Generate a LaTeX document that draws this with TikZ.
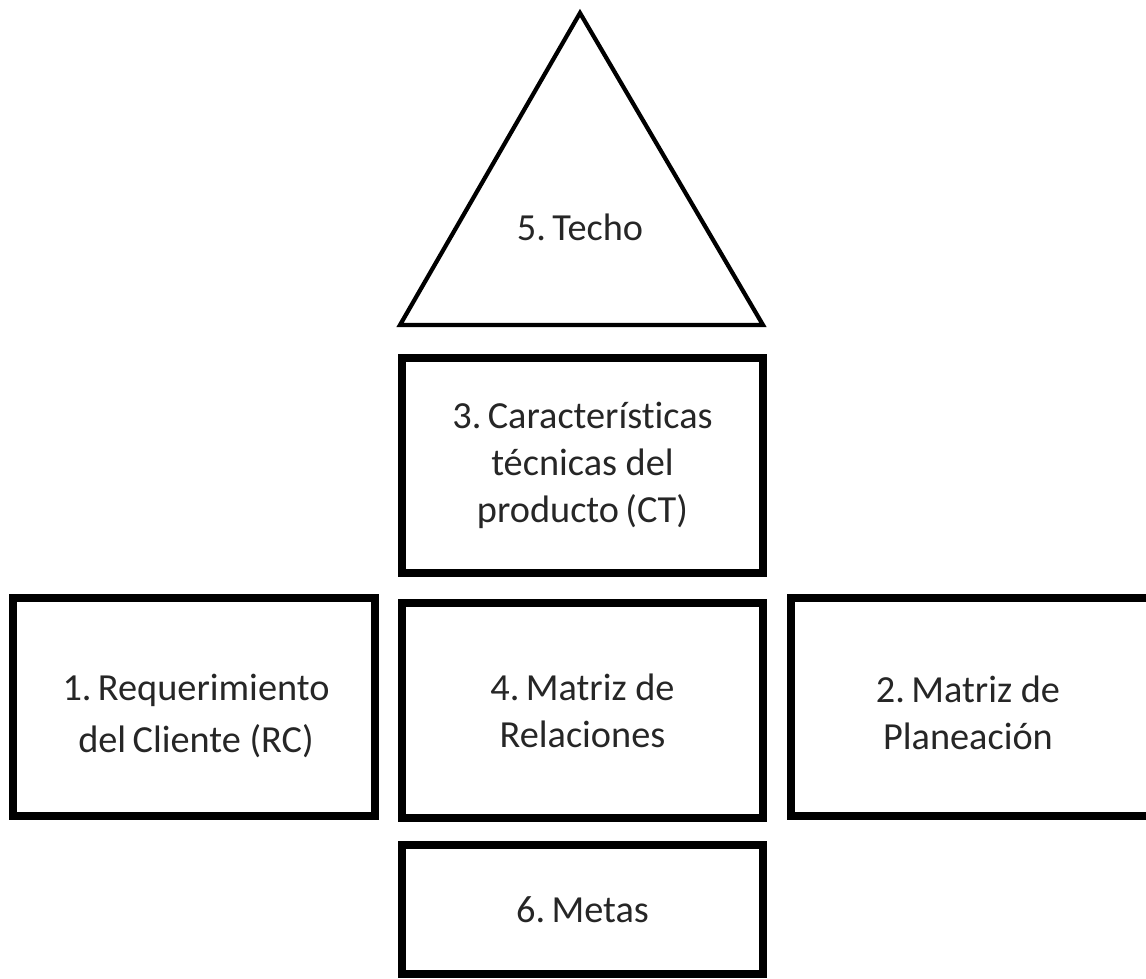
\documentclass[tikz,border=0pt]{standalone}
\usepackage{fontspec}
\setmainfont{Carlito}[Ligatures=NoCommon]
\begin{document}
\begin{tikzpicture}[x=0.02cm,y=-0.02cm,
  block/.style={draw=black, line width=4.2pt, rectangle, inner sep=0pt,
    minimum width=361*0.02cm, align=center, text=black!85,
    font=\fontsize{21.8}{26.6}\selectfont},
  label/.style={text=black!85, font=\fontsize{21.8}{26.6}\selectfont, inner sep=0pt}]
  \useasboundingbox (0,0) rectangle (1146,978);
  % roof
  \coordinate (apex) at (580,13);
  \coordinate (bl) at (400,325);
  \coordinate (br) at (763,325);
  \draw[line width=2.4pt, line join=miter] (apex) -- (bl) -- (br) -- cycle;
  \node[label] (techo) at (580,227) {5.\,Techo};
  % body of the house
  \node[block, minimum height=215*0.02cm] (ct) at (582.5,465.5)
    {3.\,Características\\técnicas del\\producto\,(CT)};
  \node[block, minimum width=362*0.02cm, minimum height=218*0.02cm] (rc) at (194,707) {};
  \node[label, align=center, font=\fontsize{21.8}{30}\selectfont] (rctext) at (196,716)
    {1.\,Requerimiento\\del\,Cliente (RC)};
  \node[block, minimum height=215*0.02cm] (mr) at (582.5,710.5)
    {4.\,Matriz de\\Relaciones};
  \node[block, minimum width=369*0.02cm, minimum height=218*0.02cm] (mp) at (975.5,707) {};
  \node[label, align=center] (mptext) at (968,713) {2.\,Matriz de\\Planeación};
  \node[block, minimum height=129*0.02cm] (metas) at (582.5,909.5)
    {6.\,Metas};
\end{tikzpicture}
\end{document}
